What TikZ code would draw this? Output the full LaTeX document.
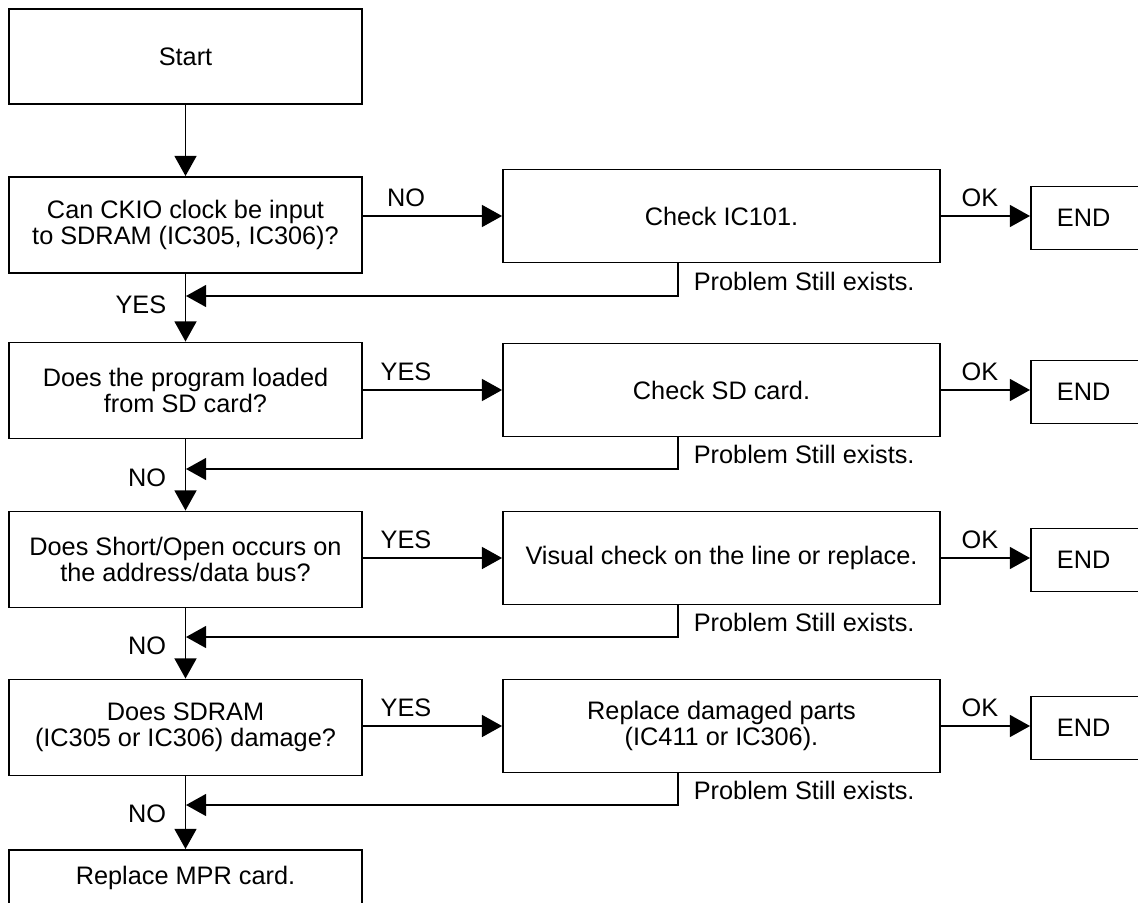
\documentclass[tikz,border=0pt]{standalone}
\usepackage{fontspec}
\setmainfont{Liberation Sans}
\usetikzlibrary{arrows.meta}

\begin{document}
\begin{tikzpicture}[x=0.02cm, y=-0.02cm, line width=1.1pt,
      every node/.style={font=\fontsize{14.4}{15}\selectfont},
      qbox/.style={draw, minimum width=7.06cm, minimum height=1.92cm,
        align=center, inner sep=0pt},
      actbox/.style={draw, minimum width=8.74cm, minimum height=1.86cm,
        align=center, inner sep=0pt},
      endbox/.style={draw, anchor=west, minimum height=1.26cm,
        text width=1.6cm, inner xsep=0.52cm, align=left},
      flow/.style={-{Triangle[length=11.5pt, width=12.5pt]}}]
    \useasboundingbox (0,0) rectangle (1138,902);
    \clip (0,0) rectangle (1138,902);
    \node[qbox, minimum height=1.9cm] (start) at (185.5,56.5) {Start};
    \foreach \i/\yc/\ay/\ry/\q/\act/\ans/\dn in {
        1/225/216/296/{Can CKIO clock be input\\to SDRAM (IC305, IC306)?}/{Check IC101.}/NO/YES,
        2/390.5/390/469/{Does the program loaded\\from SD card?}/{Check SD card.}/YES/NO,
        3/559.5/558/637/{Does Short/Open occurs on\\the address/data bus?}/{Visual check on the line or replace.}/YES/NO,
        4/727.5/726/805/{Does SDRAM\\(IC305 or IC306) damage?}/{Replace damaged parts\\(IC411 or IC306).}/YES/NO} {
      \node[qbox] (q\i) at (185.5,\yc) {\q};
      \node[actbox] (act\i) at (721.5,\ay) {\act};
      \node[endbox] (end\i) at (1030,\ay+2) {END};
      \coordinate (r\i) at (186,\ry);
      \draw[flow] (act\i.west -| q\i.east) -- (act\i.west);
      \draw[flow] (act\i.east) -- (end\i.west |- act\i.east);
      \draw[flow] ([xshift=-0.87cm]act\i.south) |- (r\i);
      \node (ans\i) at (406,\ay-18) {\ans};
      \node (ok\i) at (980,\ay-18) {OK};
      \node[anchor=west] (pse\i) at (687,\ry-15) {Problem Still exists.};
      \node[anchor=east] (yn\i) at (173,\ry+9) {\dn};
    }
    \node[qbox, anchor=north, minimum height=1.12cm] (last) at (185.5,849) {Replace MPR card.};
    \draw[flow] (start) -- (q1);
    \foreach \a/\b in {q1/q2, q2/q3, q3/q4, q4/last}
      \draw[flow] (\a) -- (\b);
  \end{tikzpicture}
\end{document}
